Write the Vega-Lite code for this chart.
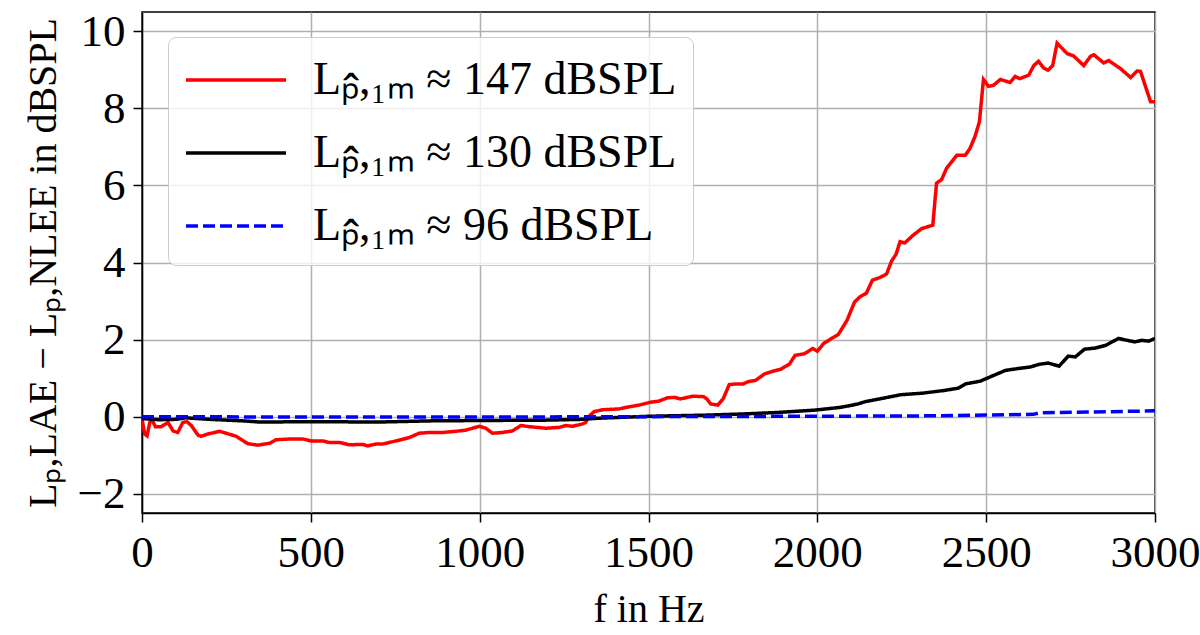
{
  "$schema": "https://vega.github.io/schema/vega-lite/v6.json",
  "autosize": {"type": "none"},
  "width": 1013,
  "height": 501,
  "padding": {"left": 142, "top": 12, "right": 45, "bottom": 122},
  "background": "white",
  "config": {
    "view": {"stroke": "black", "strokeWidth": 1.5},
    "axis": {
      "labelFont": "Liberation Serif",
      "labelFontSize": 45,
      "labelColor": "black",
      "titleFont": "Liberation Serif",
      "titleFontWeight": "normal",
      "titleColor": "black",
      "gridColor": "#b0b0b0",
      "gridWidth": 1.5,
      "domainColor": "black",
      "domainWidth": 1.5,
      "tickColor": "black",
      "tickWidth": 1.5,
      "tickSize": 9
    }
  },
  "data": {
    "values": [
      {"f":0,"d":-0.06,"s":"r"},{"f":8,"d":-0.45,"s":"r"},{"f":15,"d":-0.50,"s":"r"},{"f":23,"d":-0.15,"s":"r"},{"f":30,"d":-0.10,"s":"r"},{"f":40,"d":-0.26,"s":"r"},{"f":57,"d":-0.26,"s":"r"},{"f":77,"d":-0.15,"s":"r"},{"f":92,"d":-0.37,"s":"r"},{"f":106,"d":-0.41,"s":"r"},{"f":121,"d":-0.15,"s":"r"},{"f":133,"d":-0.13,"s":"r"},{"f":146,"d":-0.23,"s":"r"},{"f":166,"d":-0.48,"s":"r"},{"f":175,"d":-0.51,"s":"r"},{"f":195,"d":-0.45,"s":"r"},{"f":230,"d":-0.38,"s":"r"},{"f":249,"d":-0.43,"s":"r"},{"f":279,"d":-0.51,"s":"r"},{"f":313,"d":-0.70,"s":"r"},{"f":343,"d":-0.74,"s":"r"},{"f":378,"d":-0.69,"s":"r"},{"f":397,"d":-0.60,"s":"r"},{"f":437,"d":-0.58,"s":"r"},{"f":476,"d":-0.58,"s":"r"},{"f":501,"d":-0.63,"s":"r"},{"f":535,"d":-0.63,"s":"r"},{"f":555,"d":-0.67,"s":"r"},{"f":585,"d":-0.67,"s":"r"},{"f":614,"d":-0.73,"s":"r"},{"f":654,"d":-0.72,"s":"r"},{"f":668,"d":-0.76,"s":"r"},{"f":693,"d":-0.71,"s":"r"},{"f":713,"d":-0.71,"s":"r"},{"f":752,"d":-0.63,"s":"r"},{"f":792,"d":-0.54,"s":"r"},{"f":821,"d":-0.43,"s":"r"},{"f":851,"d":-0.41,"s":"r"},{"f":891,"d":-0.41,"s":"r"},{"f":930,"d":-0.38,"s":"r"},{"f":959,"d":-0.35,"s":"r"},{"f":979,"d":-0.30,"s":"r"},{"f":999,"d":-0.25,"s":"r"},{"f":1018,"d":-0.30,"s":"r"},{"f":1038,"d":-0.43,"s":"r"},{"f":1068,"d":-0.41,"s":"r"},{"f":1097,"d":-0.37,"s":"r"},{"f":1122,"d":-0.23,"s":"r"},{"f":1147,"d":-0.26,"s":"r"},{"f":1196,"d":-0.30,"s":"r"},{"f":1235,"d":-0.28,"s":"r"},{"f":1255,"d":-0.23,"s":"r"},{"f":1275,"d":-0.25,"s":"r"},{"f":1304,"d":-0.19,"s":"r"},{"f":1314,"d":-0.15,"s":"r"},{"f":1324,"d":0.01,"s":"r"},{"f":1339,"d":0.13,"s":"r"},{"f":1364,"d":0.18,"s":"r"},{"f":1413,"d":0.20,"s":"r"},{"f":1433,"d":0.24,"s":"r"},{"f":1472,"d":0.30,"s":"r"},{"f":1503,"d":0.37,"s":"r"},{"f":1530,"d":0.40,"s":"r"},{"f":1556,"d":0.49,"s":"r"},{"f":1578,"d":0.50,"s":"r"},{"f":1594,"d":0.46,"s":"r"},{"f":1631,"d":0.53,"s":"r"},{"f":1663,"d":0.52,"s":"r"},{"f":1673,"d":0.46,"s":"r"},{"f":1684,"d":0.33,"s":"r"},{"f":1705,"d":0.30,"s":"r"},{"f":1721,"d":0.46,"s":"r"},{"f":1739,"d":0.83,"s":"r"},{"f":1759,"d":0.85,"s":"r"},{"f":1780,"d":0.85,"s":"r"},{"f":1796,"d":0.91,"s":"r"},{"f":1817,"d":0.94,"s":"r"},{"f":1844,"d":1.11,"s":"r"},{"f":1865,"d":1.17,"s":"r"},{"f":1892,"d":1.23,"s":"r"},{"f":1918,"d":1.37,"s":"r"},{"f":1934,"d":1.59,"s":"r"},{"f":1961,"d":1.63,"s":"r"},{"f":1987,"d":1.77,"s":"r"},{"f":2000,"d":1.70,"s":"r"},{"f":2019,"d":1.90,"s":"r"},{"f":2046,"d":2.05,"s":"r"},{"f":2062,"d":2.13,"s":"r"},{"f":2088,"d":2.50,"s":"r"},{"f":2110,"d":2.97,"s":"r"},{"f":2126,"d":3.11,"s":"r"},{"f":2145,"d":3.20,"s":"r"},{"f":2163,"d":3.54,"s":"r"},{"f":2185,"d":3.61,"s":"r"},{"f":2205,"d":3.70,"s":"r"},{"f":2220,"d":4.04,"s":"r"},{"f":2233,"d":4.21,"s":"r"},{"f":2245,"d":4.54,"s":"r"},{"f":2259,"d":4.51,"s":"r"},{"f":2284,"d":4.71,"s":"r"},{"f":2309,"d":4.88,"s":"r"},{"f":2324,"d":4.92,"s":"r"},{"f":2342,"d":4.97,"s":"r"},{"f":2353,"d":6.06,"s":"r"},{"f":2368,"d":6.15,"s":"r"},{"f":2383,"d":6.45,"s":"r"},{"f":2413,"d":6.78,"s":"r"},{"f":2438,"d":6.78,"s":"r"},{"f":2452,"d":6.96,"s":"r"},{"f":2467,"d":7.27,"s":"r"},{"f":2480,"d":7.65,"s":"r"},{"f":2492,"d":8.75,"s":"r"},{"f":2507,"d":8.57,"s":"r"},{"f":2522,"d":8.60,"s":"r"},{"f":2542,"d":8.75,"s":"r"},{"f":2571,"d":8.67,"s":"r"},{"f":2586,"d":8.83,"s":"r"},{"f":2599,"d":8.77,"s":"r"},{"f":2626,"d":8.86,"s":"r"},{"f":2641,"d":9.11,"s":"r"},{"f":2655,"d":9.22,"s":"r"},{"f":2670,"d":9.05,"s":"r"},{"f":2683,"d":8.99,"s":"r"},{"f":2697,"d":9.11,"s":"r"},{"f":2710,"d":9.69,"s":"r"},{"f":2740,"d":9.42,"s":"r"},{"f":2759,"d":9.36,"s":"r"},{"f":2789,"d":9.11,"s":"r"},{"f":2809,"d":9.35,"s":"r"},{"f":2819,"d":9.39,"s":"r"},{"f":2848,"d":9.18,"s":"r"},{"f":2863,"d":9.24,"s":"r"},{"f":2898,"d":9.03,"s":"r"},{"f":2928,"d":8.80,"s":"r"},{"f":2947,"d":8.97,"s":"r"},{"f":2957,"d":8.96,"s":"r"},{"f":2987,"d":8.17,"s":"r"},{"f":3000,"d":8.17,"s":"r"},
      {"f":0,"d":-0.05,"s":"k"},{"f":50,"d":-0.08,"s":"k"},{"f":100,"d":-0.07,"s":"k"},{"f":130,"d":-0.03,"s":"k"},{"f":200,"d":-0.07,"s":"k"},{"f":300,"d":-0.11,"s":"k"},{"f":350,"d":-0.14,"s":"k"},{"f":500,"d":-0.13,"s":"k"},{"f":700,"d":-0.14,"s":"k"},{"f":850,"d":-0.11,"s":"k"},{"f":1000,"d":-0.10,"s":"k"},{"f":1200,"d":-0.09,"s":"k"},{"f":1300,"d":-0.07,"s":"k"},{"f":1354,"d":-0.04,"s":"k"},{"f":1500,"d":0.01,"s":"k"},{"f":1673,"d":0.04,"s":"k"},{"f":1780,"d":0.07,"s":"k"},{"f":1886,"d":0.11,"s":"k"},{"f":1993,"d":0.17,"s":"k"},{"f":2067,"d":0.24,"s":"k"},{"f":2099,"d":0.29,"s":"k"},{"f":2120,"d":0.33,"s":"k"},{"f":2142,"d":0.39,"s":"k"},{"f":2184,"d":0.46,"s":"k"},{"f":2248,"d":0.57,"s":"k"},{"f":2312,"d":0.61,"s":"k"},{"f":2376,"d":0.68,"s":"k"},{"f":2418,"d":0.74,"s":"k"},{"f":2439,"d":0.85,"s":"k"},{"f":2482,"d":0.92,"s":"k"},{"f":2514,"d":1.04,"s":"k"},{"f":2557,"d":1.20,"s":"k"},{"f":2588,"d":1.24,"s":"k"},{"f":2631,"d":1.29,"s":"k"},{"f":2658,"d":1.36,"s":"k"},{"f":2684,"d":1.39,"s":"k"},{"f":2716,"d":1.31,"s":"k"},{"f":2743,"d":1.57,"s":"k"},{"f":2764,"d":1.55,"s":"k"},{"f":2791,"d":1.75,"s":"k"},{"f":2823,"d":1.78,"s":"k"},{"f":2854,"d":1.85,"s":"k"},{"f":2892,"d":2.03,"s":"k"},{"f":2918,"d":1.98,"s":"k"},{"f":2940,"d":1.94,"s":"k"},{"f":2961,"d":1.98,"s":"k"},{"f":2982,"d":1.96,"s":"k"},{"f":3000,"d":2.03,"s":"k"},
      {"f":0,"d":0.0,"s":"b"},{"f":500,"d":-0.01,"s":"b"},{"f":1000,"d":-0.01,"s":"b"},{"f":1500,"d":0.0,"s":"b"},{"f":2000,"d":0.01,"s":"b"},{"f":2300,"d":0.02,"s":"b"},{"f":2500,"d":0.04,"s":"b"},{"f":2640,"d":0.06,"s":"b"},{"f":2660,"d":0.10,"s":"b"},{"f":2800,"d":0.12,"s":"b"},{"f":3000,"d":0.15,"s":"b"}
    ]
  },
  "mark": {"type": "line", "strokeWidth": 3.5, "clip": true},
  "encoding": {
    "x": {
      "field": "f", "type": "quantitative",
      "scale": {"domain": [0, 3000], "nice": false, "zero": false},
      "axis": {"values": [0, 500, 1000, 1500, 2000, 2500, 3000], "format": "d", "title": "f in Hz", "titleFontSize": 40, "titlePadding": 14, "labelPadding": 8, "labelFlush": false}
    },
    "y": {
      "field": "d", "type": "quantitative",
      "scale": {"domain": [-2.5, 10.5], "nice": false, "zero": false},
      "axis": {"values": [-2, 0, 2, 4, 6, 8, 10], "title": "Lₚ,LAE − Lₚ,NLEE in dBSPL", "titleFontSize": 40, "titlePadding": 14, "labelPadding": 8}
    },
    "color": {
      "field": "s", "type": "nominal",
      "scale": {"domain": ["r", "k", "b"], "range": ["#ff0000", "#000000", "#0000ff"]},
      "legend": {
        "title": null,
        "orient": "none",
        "legendX": 26,
        "legendY": 25,
        "labelExpr": "datum.value == 'r' ? 'Lₚ̂,₁ₘ ≈ 147 dBSPL' : datum.value == 'k' ? 'Lₚ̂,₁ₘ ≈ 130 dBSPL' : 'Lₚ̂,₁ₘ ≈ 96 dBSPL'",
        "labelFont": "Liberation Serif",
        "labelFontSize": 46,
        "labelLimit": 600,
        "labelColor": "black",
        "labelOffset": 75,
        "symbolType": "M-1,0H3",
        "symbolSize": 2500,
        "symbolStrokeWidth": 3.5,
        "rowPadding": 23,
        "padding": 16,
        "fillColor": "rgba(255,255,255,0.8)",
        "strokeColor": "#cccccc",
        "cornerRadius": 8
      }
    },
    "strokeDash": {
      "field": "s", "type": "nominal",
      "scale": {"domain": ["r", "k", "b"], "range": [[1, 0], [1, 0], [12, 5]]},
      "legend": null
    },
    "order": {"field": "f"}
  }
}
